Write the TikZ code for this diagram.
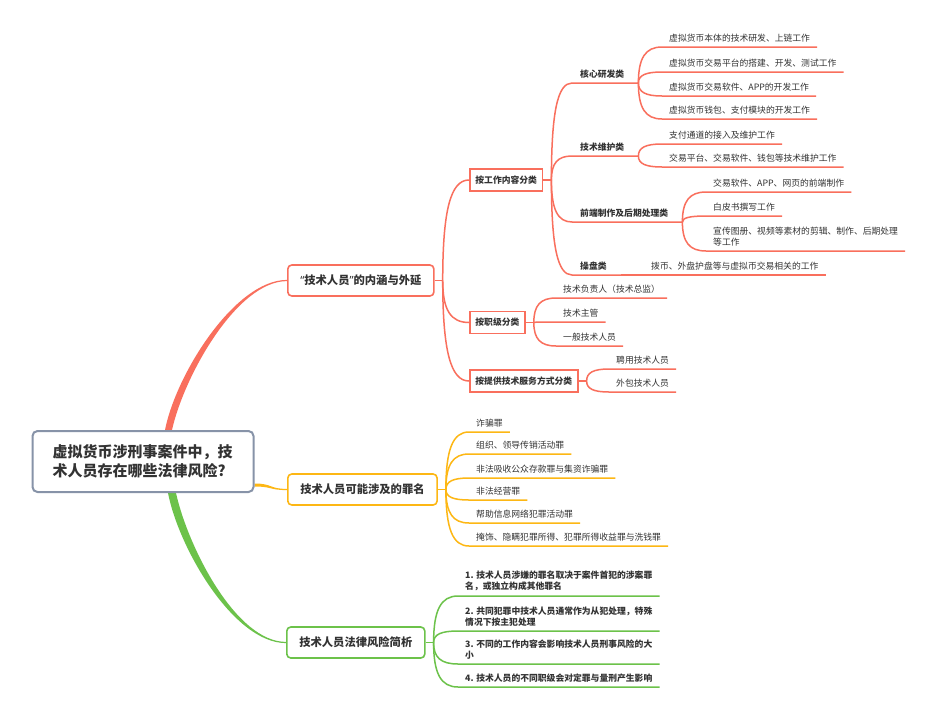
\documentclass[tikz,border=0pt]{standalone}
\usepackage{fontspec}
\newfontfamily\cjkfont{Noto Sans CJK SC}
\newfontfamily\quotefont{Noto Sans}
\usepackage{tikz}
\usetikzlibrary{positioning, calc, backgrounds}
\definecolor{xred}{HTML}{F96F5D}
\definecolor{xorange}{HTML}{FDB714}
\definecolor{xgreen}{HTML}{6CC24A}
\definecolor{xroot}{HTML}{8793A8}
\definecolor{xtext}{HTML}{333333}
\tikzstyle{redline}=[draw=xred, line width=1.5pt]
\tikzstyle{orangeline}=[draw=xorange, line width=1.5pt]
\tikzstyle{greenline}=[draw=xgreen, line width=1.5pt]
% bend from a point to a node, then along its underline
\newcommand{\twig}[3]{\coordinate (bend) at (#2 |- #3.south west);
  \draw[#1] (#2) .. controls ($(#2)!0.7!(bend)$) and ($(#3.south west)!0.7!(bend)$) .. (#3.south west) -- (#3.south east);}
\newcommand{\limb}[3]{\coordinate (bend) at (#2 |- #3);
  \draw[#1] (#2) .. controls ($(#2)!0.7!(bend)$) and ($(#3)!0.7!(bend)$) .. (#3);}

\begin{document}
\begin{tikzpicture}[x=1pt, y=-1pt, font=\cjkfont, text=xtext,
  rootbox/.style={draw=xroot, line width=2pt, rounded corners=5pt, fill=white,
                  text width=181pt, align=left, inner xsep=20pt, minimum height=61pt,
                  font=\cjkfont\bfseries\fontsize{15}{19.3}\selectfont},
  topicbox/.style={rounded corners=4pt, line width=1.6pt, fill=white, anchor=west,
                   inner xsep=12.5pt, minimum height=31pt,
                   font=\cjkfont\bfseries\fontsize{11.3}{14}\selectfont},
  subbox/.style={draw=xred, line width=1.8pt, fill=white, anchor=west,
                 inner xsep=5.5pt, minimum height=22pt,
                 font=\cjkfont\bfseries\fontsize{8.8}{11}\selectfont},
  leaf/.style={anchor=south west, inner xsep=7pt, inner ysep=4.5pt, align=left,
               font=\cjkfont\fontsize{8.8}{11}\selectfont},
  boldleaf/.style={leaf, font=\cjkfont\bfseries\fontsize{8.8}{11}\selectfont},
  catleaf/.style={leaf, inner xsep=8pt, execute at end node={\hspace*{6pt}},
                  font=\cjkfont\bfseries\fontsize{8.8}{11}\selectfont}
]
\useasboundingbox (0,0) rectangle (936,720);

\node[rootbox] (root) at (143,461.5) {虚拟货币涉刑事案件中，技\\术人员存在哪些法律风险?};

\node[topicbox, draw=xred]    (scope) at (287,280.5) {{\quotefont “}技术人员{\quotefont ”}的内涵与外延};
\node[topicbox, draw=xorange] (crime) at (287,489.5) {技术人员可能涉及的罪名};
\node[topicbox, draw=xgreen]  (risk)  at (286,642.5) {技术人员法律风险简析};

\node[subbox] (bywork) at (469,180)   {按工作内容分类};
\node[subbox] (byrank) at (469,322.5) {按职级分类};
\node[subbox] (bymode) at (469,381)   {按提供技术服务方式分类};

% work content
\node[catleaf] (core)  at (572,83)  {核心研发类};
\node[leaf] (core1) at (662,47)  {虚拟货币本体的技术研发、上链工作};
\node[leaf] (core2) at (662,72)  {虚拟货币交易平台的搭建、开发、测试工作};
\node[leaf] (core3) at (662,96)  {虚拟货币交易软件、APP的开发工作};
\node[leaf] (core4) at (662,119) {虚拟货币钱包、支付模块的开发工作};
\node[catleaf] (maint) at (572,156) {技术维护类};
\node[leaf] (maint1) at (662,144) {支付通道的接入及维护工作};
\node[leaf] (maint2) at (662,167) {交易平台、交易软件、钱包等技术维护工作};
\node[catleaf] (front) at (572,222) {前端制作及后期处理类};
\node[leaf] (front1) at (706,192) {交易软件、APP、网页的前端制作};
\node[leaf] (front2) at (706,216) {白皮书撰写工作};
\node[leaf] (front3) at (706,251) {宣传图册、视频等素材的剪辑、制作、后期处理\\等工作};
\node[catleaf] (trade) at (572,275) {操盘类};
\node[leaf] (trade1) at (644,275) {拨币、外盘护盘等与虚拟币交易相关的工作};

% rank and mode
\node[leaf] (rank1) at (556,298) {技术负责人（技术总监）};
\node[leaf] (rank2) at (556,322) {技术主管};
\node[leaf] (rank3) at (556,346) {一般技术人员};
\node[leaf] (mode1) at (609,369) {聘用技术人员};
\node[leaf] (mode2) at (609,392) {外包技术人员};

% crimes
\node[leaf] (crime1) at (469,432) {诈骗罪};
\node[leaf] (crime2) at (469,454) {组织、领导传销活动罪};
\node[leaf] (crime3) at (469,478) {非法吸收公众存款罪与集资诈骗罪};
\node[leaf] (crime4) at (469,500) {非法经营罪};
\node[leaf] (crime5) at (469,523) {帮助信息网络犯罪活动罪};
\node[leaf] (crime6) at (469,546) {掩饰、隐瞒犯罪所得、犯罪所得收益罪与洗钱罪};

% risk analysis
\node[boldleaf] (risk1) at (458,596) {1. 技术人员涉嫌的罪名取决于案件首犯的涉案罪\\名，或独立构成其他罪名};
\node[boldleaf] (risk2) at (458,631) {2. 共同犯罪中技术人员通常作为从犯处理，特殊\\情况下按主犯处理};
\node[boldleaf] (risk3) at (458,664) {3. 不同的工作内容会影响技术人员刑事风险的大\\小};
\node[boldleaf] (risk4) at (458,687) {4. 技术人员的不同职级会对定罪与量刑产生影响};

\coordinate (scope-out)  at ([xshift=8pt]scope.east);
\coordinate (crime-out)  at ([xshift=8pt]crime.east);
\coordinate (risk-out)   at ([xshift=8pt]risk.east);
\coordinate (bywork-out) at ([xshift=8pt]bywork.east);
\coordinate (byrank-out) at ([xshift=8pt]byrank.east);
\coordinate (bymode-out) at ([xshift=8pt]bymode.east);

\begin{scope}[on background layer]
\fill[white] (0,0) rectangle (936,720);
% main branches from the root
\fill[xred] ([xshift=22pt]root.north) .. controls +(11,-56) and +(-52,0) .. ([yshift=0.6pt]scope.west)
  -- ([yshift=-0.6pt]scope.west) .. controls +(-50,0) and +(12,-54) .. ([xshift=29pt]root.north) -- cycle;
\fill[xorange] ([yshift=-22pt]root.east) .. controls +(18,0) and +(-18,0) .. ([yshift=0.6pt]crime.west)
  -- ([yshift=-0.6pt]crime.west) .. controls +(-18,0) and +(18,0) .. ([yshift=-25pt]root.east) -- cycle;
\fill[xgreen] ([xshift=25pt]root.south) .. controls +(11,56) and +(-52,0) .. ([yshift=-0.6pt]risk.west)
  -- ([yshift=0.6pt]risk.west) .. controls +(-50,0) and +(12,54) .. ([xshift=33pt]root.south) -- cycle;

\draw[redline] (scope.east) -- (scope-out);
\draw[orangeline] (crime.east) -- (crime-out);
\draw[greenline] (risk.east) -- (risk-out);
\draw[redline] (bywork.east) -- (bywork-out);
\draw[redline] (byrank.east) -- (byrank-out);
\draw[redline] (bymode.east) -- (bymode-out);

\limb{redline}{scope-out}{bywork.west}
\limb{redline}{scope-out}{byrank.west}
\limb{redline}{scope-out}{bymode.west}

\foreach \c in {core, maint, front, trade} {\twig{redline}{bywork-out}{\c}}
\foreach \c in {core1, core2, core3, core4} {\twig{redline}{core.south east}{\c}}
\foreach \c in {maint1, maint2} {\twig{redline}{maint.south east}{\c}}
\foreach \c in {front1, front2, front3} {\twig{redline}{front.south east}{\c}}
\twig{redline}{trade.south east}{trade1}
\foreach \c in {rank1, rank2, rank3} {\twig{redline}{byrank-out}{\c}}
\foreach \c in {mode1, mode2} {\twig{redline}{bymode-out}{\c}}
\foreach \c in {crime1, crime2, crime3, crime4, crime5, crime6} {\twig{orangeline}{crime-out}{\c}}
\foreach \c in {risk1, risk2, risk3, risk4} {\twig{greenline}{risk-out}{\c}}
\end{scope}
\end{tikzpicture}
\end{document}
